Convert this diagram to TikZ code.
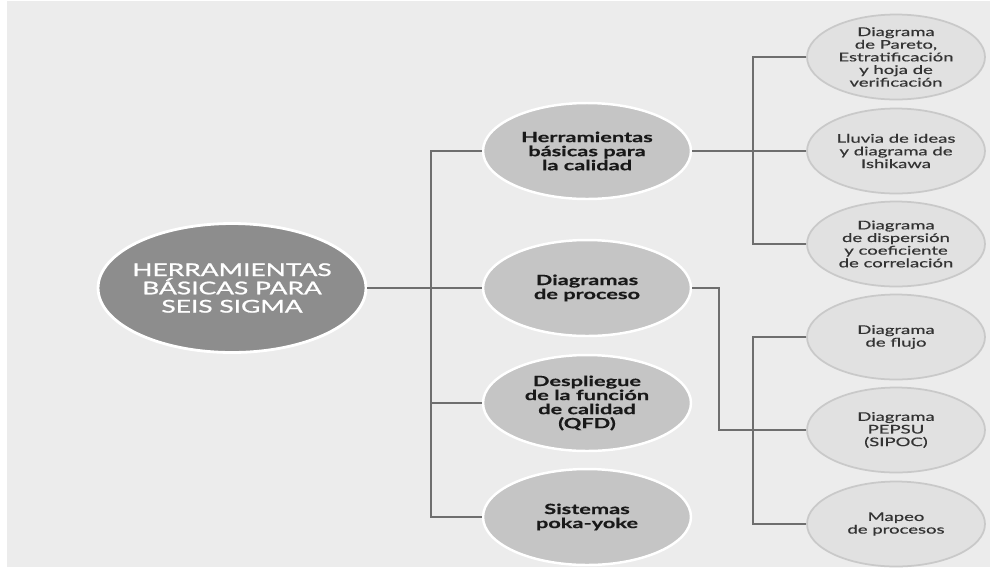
\documentclass[tikz,border=0pt]{standalone}
\usepackage{fontspec}
\newfontfamily\herrfont[FakeStretch=1.55, FakeBold=0.5]{Lato}
\newfontfamily\herrcaps[FakeStretch=1.5, FakeBold=1.2]{Lato}
\usepackage{xcolor}
\usepackage{tikz}
\usetikzlibrary{positioning,shapes.geometric}

\definecolor{panelgray}{HTML}{ECECEC}
\definecolor{maingray}{HTML}{8D8D8D}
\definecolor{toolgray}{HTML}{C5C5C5}
\definecolor{subgray}{HTML}{E1E1E1}
\definecolor{subedge}{HTML}{C9C9C9}
\definecolor{linegray}{HTML}{6E6E6E}

\begin{document}
\begin{tikzpicture}[x=0.02cm, y=-0.02cm, font=\herrfont,
  mainnode/.style={ellipse, fill=maingray, draw=white, line width=1.6pt,
    minimum width=5.36cm, minimum height=2.58cm, inner xsep=-30pt,
    inner ysep=0pt, align=center, text=white,
    font=\herrcaps\fontsize{10}{10.4}\selectfont},
  toolnode/.style={ellipse, fill=toolgray, draw=white, line width=1.4pt,
    minimum width=4.16cm, minimum height=1.92cm, inner sep=0pt,
    align=center, text=black!90,
    font=\herrfont\bfseries\fontsize{8}{8}\selectfont},
  subnode/.style={ellipse, fill=subgray, draw=subedge, line width=1pt,
    minimum width=3.56cm, minimum height=1.70cm, inner sep=0pt,
    align=center, text=black!80,
    font=\herrfont\fontsize{6.8}{7.2}\selectfont},
  link/.style={draw=linegray, line width=0.6pt}]
  \useasboundingbox (0,0) rectangle (990,569);
  \fill[white] (0,0) rectangle (990,569);
  \fill[panelgray] (7,1) rectangle (990,567);
  % Bus lines
  \coordinate (busL) at (431,0);
  \coordinate (busM) at (719,0);
  \coordinate (busR) at (753,0);
  % Main topic
  \node[mainnode] (main) at (232,288) {HERRAMIENTAS\\BÁSICAS PARA\\SEIS SIGMA};
  % Tools
  \node[toolnode] (pA) at (587,151) {Herramientas\\básicas para\\la calidad};
  \node[toolnode] (pB) at (587,288) {Diagramas\\de proceso};
  \node[toolnode] (pC) at (587,403) {Despliegue\\de la función\\de calidad\\(QFD)};
  \node[toolnode] (pD) at (587,517) {Sistemas\\poka-yoke};
  % Sub-tools
  \node[subnode] (qA) at (896,57) {Diagrama\\de Pareto,\\Estratificación\\y hoja de\\verificación};
  \node[subnode] (qB) at (896,151) {Lluvia de ideas\\y diagrama de\\Ishikawa};
  \node[subnode] (qC) at (896,244) {Diagrama\\de dispersión\\y coeficiente\\de correlación};
  \node[subnode] (qD) at (896,337) {Diagrama\\de flujo};
  \node[subnode] (qE) at (896,430) {Diagrama\\PEPSU\\(SIPOC)};
  \node[subnode] (qF) at (896,524) {Mapeo\\de procesos};
  % Connectors
  \draw[link] (main.east) -- (pB.west);
  \draw[link] (pA.west) -- (busL |- pA) |- (pD.west);
  \draw[link] (pC.west) -- (busL |- pC);
  \draw[link] (pA.east) -- (qB.west);
  \draw[link] (qA.west) -- (busR |- qA) |- (qC.west);
  \draw[link] (pB.east) -- (busM |- pB) |- (qE.west);
  \draw[link] (qD.west) -- (busR |- qD) |- (qF.west);
\end{tikzpicture}
\end{document}
